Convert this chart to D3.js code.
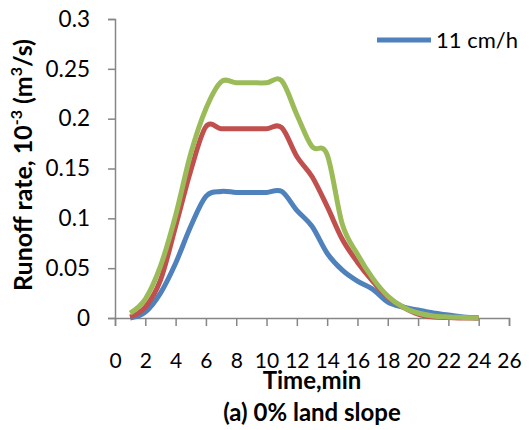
<!DOCTYPE html>
<html>
<head>
<meta charset="utf-8">
<script src="https://cdn.jsdelivr.net/npm/d3@7"></script>
<style>
  html, body { margin: 0; padding: 0; background: #fff; }
  svg { display: block; font-family: Lato, "Open Sans", sans-serif; }
</style>
</head>
<body>
<svg id="chart" width="529" height="430"></svg>
<script>
// Time after rainfall start (min)
const timeMin = [1, 2, 3, 4, 5, 6, 7, 8, 9, 10, 11, 12, 13, 14, 15, 16, 17, 18, 19, 20, 21, 22, 23, 24];

// Runoff rate, 10^-3 m^3/s, one array per rainfall intensity
const runoffBlue = [0, 0.006, 0.025, 0.055, 0.092, 0.122, 0.127, 0.126, 0.126, 0.126, 0.127, 0.108,
                    0.092, 0.065, 0.048, 0.037, 0.029, 0.016, 0.011, 0.008, 0.005, 0.003, 0.001, 0];
const runoffRed  = [0.001, 0.011, 0.038, 0.092, 0.148, 0.192, 0.19, 0.19, 0.19, 0.19, 0.191, 0.162,
                    0.142, 0.112, 0.079, 0.056, 0.037, 0.021, 0.011, 0.004, 0.001, 0.0005, 0, 0];
const runoffGreen = [0.005, 0.019, 0.052, 0.103, 0.165, 0.21, 0.237, 0.236, 0.236, 0.236, 0.238, 0.204,
                     0.172, 0.164, 0.094, 0.064, 0.040, 0.022, 0.011, 0.005, 0.002, 0.001, 0.0005, 0];

const seriesColors = ["#4F81BD", "#C0504D", "#9BBB59"];
const legendLabels = ["11 cm/h"];

const xTicks = d3.range(0, 27, 2);
const yTicks = [0, 0.05, 0.1, 0.15, 0.2, 0.25, 0.3];

const xTitle = "Time,min";
const caption = "(a) 0% land slope";

const svg = d3.select("#chart");
const axisColor = "#868686";

const x = d3.scaleLinear().domain([0, 26]).range([115, 509]);
const y = d3.scaleLinear().domain([0, 0.3]).range([318, 19]);

// Y axis
const yAxis = svg.append("g")
  .attr("transform", `translate(${x(0)},0)`)
  .call(d3.axisLeft(y).tickValues(yTicks).tickSize(7).tickPadding(18)
        .tickFormat(d => d3.format("~g")(d)));
yAxis.select(".domain").attr("stroke", axisColor).attr("stroke-width", 1.5);
yAxis.selectAll(".tick line").attr("stroke", axisColor).attr("stroke-width", 1.5);
yAxis.selectAll(".tick text").attr("fill", "#000").attr("font-size", 22.5)
  .attr("font-family", "Lato, sans-serif");

// X axis
const xAxis = svg.append("g")
  .attr("transform", `translate(0,${y(0)})`)
  .call(d3.axisBottom(x).tickValues(xTicks).tickSize(8).tickPadding(27));
xAxis.select(".domain").attr("stroke", axisColor).attr("stroke-width", 1.5);
xAxis.selectAll(".tick line").attr("stroke", axisColor).attr("stroke-width", 1.5);
xAxis.selectAll(".tick text").attr("fill", "#000").attr("font-size", 21)
  .attr("font-family", "Lato, sans-serif");

// Runoff hydrographs
const line = d3.line()
  .x((d, i) => x(timeMin[i]))
  .y(d => y(d))
  .curve(d3.curveCardinal.tension(0));

[runoffBlue, runoffRed, runoffGreen].forEach((vals, k) => {
  svg.append("path")
    .datum(vals)
    .attr("d", line)
    .attr("fill", "none")
    .attr("stroke", seriesColors[k])
    .attr("stroke-width", 5)
    .attr("stroke-linejoin", "round")
    .attr("stroke-linecap", "butt");
});

// Legend
const lg = svg.append("g").attr("transform", "translate(377,40)");
legendLabels.forEach((lab, i) => {
  lg.append("line").attr("x1", 0).attr("x2", 54).attr("y1", 0).attr("y2", 0)
    .attr("stroke", seriesColors[i]).attr("stroke-width", 5);
  lg.append("text").attr("x", 59).attr("y", 0).attr("dy", "0.35em")
    .attr("font-size", 22).text(lab);
});

// Axis titles
svg.append("text")
  .attr("x", 312).attr("y", 389)
  .attr("text-anchor", "middle").attr("font-weight", "bold").attr("font-size", 24)
  .text(xTitle);

svg.append("text")
  .attr("x", 312).attr("y", 421)
  .attr("text-anchor", "middle").attr("font-weight", "bold").attr("font-size", 24)
  .text(caption);

const yt = svg.append("text")
  .attr("transform", "translate(32,165) rotate(-90)")
  .attr("text-anchor", "middle").attr("font-weight", "bold").attr("font-size", 25);
yt.append("tspan").text("Runoff rate, 10");
yt.append("tspan").attr("font-size", 16).attr("dy", -10).text("-3");
yt.append("tspan").attr("dy", 10).text(" (m");
yt.append("tspan").attr("font-size", 16).attr("dy", -10).text("3");
yt.append("tspan").attr("dy", 10).text("/s)");
</script>
</body>
</html>
